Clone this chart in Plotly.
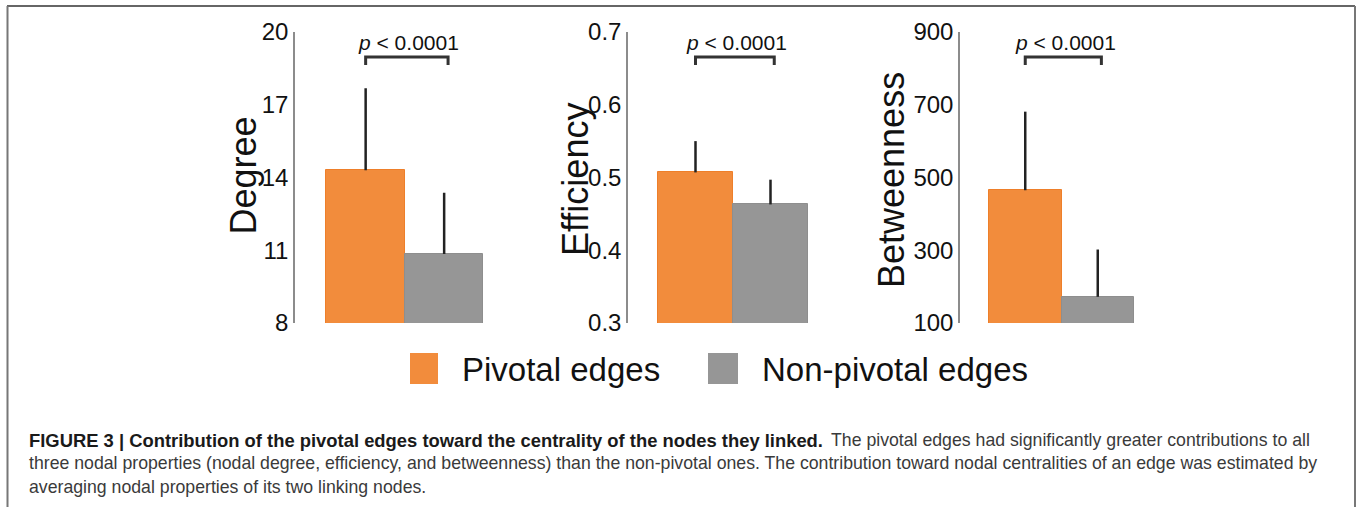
import plotly.graph_objects as go

W, H = 1360, 507

# ---- data ----
categories = ["Pivotal edges", "Non-pivotal edges"]
metrics = ["Degree", "Efficiency", "Betweenness"]
degree_mean = [14.3, 10.85]
degree_err = [3.38, 2.52]
efficiency_mean = [0.507, 0.463]
efficiency_err = [0.043, 0.034]
betweenness_mean = [465, 172]
betweenness_err = [216, 130]
y_ranges = [[8, 20], [0.3, 0.7], [100, 900]]
y_ticks = [[8, 11, 14, 17, 20], [0.3, 0.4, 0.5, 0.6, 0.7], [100, 300, 500, 700, 900]]
y_ticktext = [["8", "11", "14", "17", "20"], ["0.3", "0.4", "0.5", "0.6", "0.7"],
              ["100", "300", "500", "700", "900"]]
p_label = "<i>p</i> &lt; 0.0001"
caption_bold = "FIGURE 3 | Contribution of the pivotal edges toward the centrality of the nodes they linked."
caption_line1 = "The pivotal edges had significantly greater contributions to all"
caption_line2 = ("three nodal properties (nodal degree, efficiency, and betweenness) than the non-pivotal ones. "
                 "The contribution toward nodal centralities of an edge was estimated by")
caption_line3 = "averaging nodal properties of its two linking nodes."

colors = ["#F28C3C", "#969696"]
line_colors = ["#EE7F2A", "#8E8E8E"]

means = [degree_mean, efficiency_mean, betweenness_mean]
errs = [degree_err, efficiency_err, betweenness_err]


def px(x):
    return x / W


def py(y):
    return 1 - y / H


x_domains = [[295, 483.4], [628, 808], [960, 1134]]
title_pos = [(242.5, 176), (575, 180), (891, 180)]
y_dom = [py(323), py(32)]
FONT = "Arial, Liberation Sans, sans-serif"

fig = go.Figure()
shapes = []
annotations = []

for i in range(3):
    xa = "x" if i == 0 else f"x{i+1}"
    ya = "y" if i == 0 else f"y{i+1}"
    fig.add_trace(go.Bar(
        x=[0, 1], y=means[i], width=1,
        marker=dict(color=colors, line=dict(color=line_colors, width=1)),
        error_y=dict(type="data", symmetric=False, array=errs[i], arrayminus=[0, 0],
                     color="#222222", thickness=2.5, width=0),
        xaxis=xa, yaxis=ya, showlegend=False, hoverinfo="skip",
    ))
    xkey = "xaxis" if i == 0 else f"xaxis{i+1}"
    ykey = "yaxis" if i == 0 else f"yaxis{i+1}"
    fig.layout[xkey] = dict(domain=[px(x_domains[i][0]), px(x_domains[i][1])],
                            range=[-0.9, 1.5], anchor=ya, visible=False, fixedrange=True,
                            automargin=False)
    fig.layout[ykey] = dict(domain=y_dom, range=y_ranges[i], anchor=xa,
                            tickvals=y_ticks[i], ticktext=y_ticktext[i],
                            showline=True, linecolor="#8c8c8c", linewidth=1.5,
                            showgrid=False, zeroline=False, ticks="", automargin=False,
                            tickfont=dict(family=FONT, size=24, color="#111111"))
    # axis title
    annotations.append(dict(text=metrics[i], x=px(title_pos[i][0]), y=py(title_pos[i][1]),
                            xref="paper", yref="paper", textangle=-90, showarrow=False,
                            xanchor="center", yanchor="middle",
                            font=dict(family=FONT, size=36, color="#111111")))
    # significance bracket
    shapes.append(dict(type="path", xref=xa, yref="paper",
                       path=f"M 0,{py(65)} L 0,{py(57)} L 1.05,{py(57)} L 1.05,{py(65)}",
                       line=dict(color="#333333", width=3)))
    annotations.append(dict(text=p_label, x=0.55, y=py(43), xref=xa, yref="paper",
                            showarrow=False, xanchor="center", yanchor="middle",
                            font=dict(family=FONT, size=21, color="#111111")))

# legend
leg_boxes = [(410, 438), (708, 738)]
leg_text_x = [460, 760]
for k in range(2):
    shapes.append(dict(type="rect", xref="paper", yref="paper",
                       x0=px(leg_boxes[k][0]), x1=px(leg_boxes[k][1]), y0=py(384), y1=py(353),
                       fillcolor=colors[k], line=dict(width=0)))
    annotations.append(dict(text=categories[k], x=px(leg_text_x[k]), y=py(369),
                            xref="paper", yref="paper", showarrow=False,
                            xanchor="left", yanchor="middle",
                            font=dict(family=FONT, size=33, color="#111111")))

# caption
cap_font = dict(family=FONT, size=17.7, color="#3a3a3a")
annotations.append(dict(text=f"<b>{caption_bold}</b>", x=px(27), y=py(440), xref="paper", yref="paper",
                        showarrow=False, xanchor="left", yanchor="middle",
                        font=dict(family=FONT, size=18.4, color="#1a1a1a")))
annotations.append(dict(text=caption_line1, x=px(829), y=py(440), xref="paper", yref="paper",
                        showarrow=False, xanchor="left", yanchor="middle", font=cap_font))
annotations.append(dict(text=caption_line2, x=px(27), y=py(463), xref="paper", yref="paper",
                        showarrow=False, xanchor="left", yanchor="middle", font=cap_font))
annotations.append(dict(text=caption_line3, x=px(27), y=py(487), xref="paper", yref="paper",
                        showarrow=False, xanchor="left", yanchor="middle", font=cap_font))

# frame
shapes.append(dict(type="line", xref="paper", yref="paper", x0=px(7), x1=px(1355), y0=py(6), y1=py(6),
                   line=dict(color="#666666", width=2)))
shapes.append(dict(type="line", xref="paper", yref="paper", x0=px(7.5), x1=px(7.5), y0=py(6), y1=0,
                   line=dict(color="#777777", width=2)))
shapes.append(dict(type="line", xref="paper", yref="paper", x0=px(1355), x1=px(1355), y0=py(6), y1=0,
                   line=dict(color="#777777", width=2)))

fig.update_layout(width=W, height=H, margin=dict(l=0, r=0, t=0, b=0, autoexpand=False),
                  paper_bgcolor="white", plot_bgcolor="white",
                  bargap=0, shapes=shapes, annotations=annotations, showlegend=False)

fig.write_html("out.html", config={"displayModeBar": False},
               post_script="document.body.style.margin='0';document.body.style.overflow='hidden';")
